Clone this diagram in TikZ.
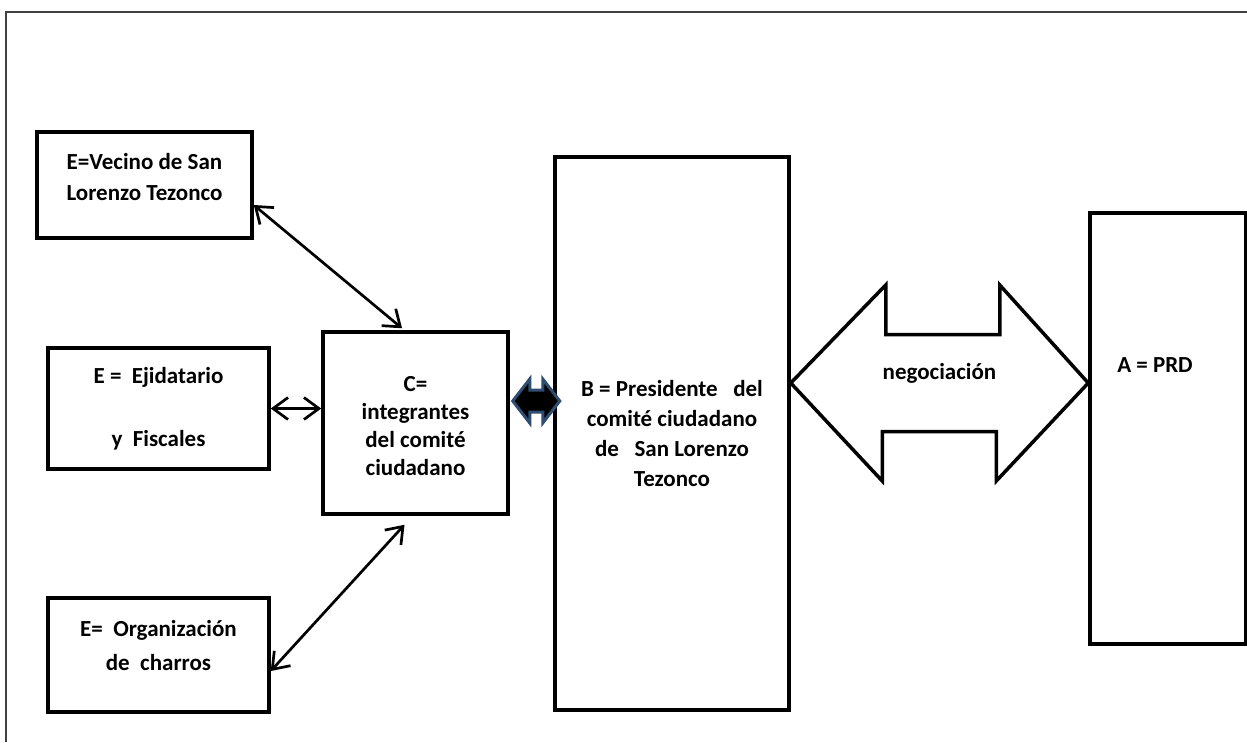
\documentclass[tikz,border=0pt]{standalone}
\usepackage{fontspec}
\setmainfont{Carlito}
\usetikzlibrary{calc,positioning,arrows.meta}

\definecolor{arrowblue}{RGB}{47,77,112}
\tikzset{
	box/.style={draw, line width=3.5pt, inner sep=0pt, align=center, font=\bfseries\fontsize{23}{30}\selectfont},
	lbl/.style={inner sep=0pt, font=\bfseries\fontsize{23}{30}\selectfont},
	link/.style={line width=2.7pt, {Straight Barb[length=15pt,width=22pt]}-{Straight Barb[length=15pt,width=22pt]}},
	bigarrow/.style={line width=3.5pt, line join=miter},
}
\newcommand{\lifted}[2]{\raisebox{#1}[\height][\depth]{\begin{tabular}{@{}c@{}}#2\end{tabular}}}

\begin{document}
\begin{tikzpicture}[x=1pt,y=-1pt]
		\useasboundingbox (0,0) rectangle (1247,742);
		\draw[black!75, line width=1.2pt] (1247,12) -- (6,12) -- (6,742);

		% boxes
		\node[box, minimum width=215pt, minimum height=106pt] (E1) at (144.5,185) {\lifted{6pt}{E=Vecino de San\\[1pt]Lorenzo Tezonco}};
		\node[box, minimum width=221pt, minimum height=121pt] (E2) at (158.5,408.5) {E =\ \ Ejidatario\\[33pt]y\ \ Fiscales};
		\node[box, minimum width=221pt, minimum height=114pt] (E3) at (158.5,655) {\lifted{8pt}{E=\ \ Organización\\[4pt]de\ \ charros}};
		\node[box, minimum width=185pt, minimum height=182pt] (C) at (415.5,423) {\lifted{-4pt}{C=\\[-2pt]integrantes\\[-2pt]del comité\\[-2pt]ciudadano}};
		\node[box, minimum width=234pt, minimum height=553pt] (B) at (672,433.5) {B = Presidente\ \ \ del\\comité ciudadano\\de\ \ \ San Lorenzo\\Tezonco};
		\node[box, minimum width=156pt, minimum height=431pt] (A) at (1168,428.5) {};
		\node[lbl] (Atxt) at (1155,365) {A = PRD};

		% links to C
		\draw[link] ([yshift=-20pt]E1.east) -- ([xshift=-13.5pt,yshift=2pt]C.north);
		\draw[link] (E2.east) -- (E2.east -| C.west);
		\draw[link] ([shift={(-11pt,-9pt)}]C.south) -- ([yshift=-16pt]E3.east);

		% small arrow C - B
		\coordinate (sl) at ($(C.east)+(3,-22)$);
		\draw[arrowblue, fill=black, line width=3pt, line join=miter] (sl) -- ++(17,-22) -- ++(0,11) -- ++(13,0) -- ++(0,-11) -- ++(17,22) -- ++(-17,22) -- ++(0,-11) -- ++(-13,0) -- ++(0,11) -- cycle;

		% negotiation arrow B - A
		\coordinate (nl) at ($(B.east)+(0,-50.5)$);
		\coordinate (nr) at (nl -| A.west);
		\draw[bigarrow] (nl) -- ++(95,-98) -- ++(0,49.5) -- ++(114,0) -- ++(0,-49.5) -- (nr) -- ++(-92,98) -- ++(0,-49.5) -- ++(-114,0) -- ++(0,49.5) -- cycle;
		\node[lbl] (neg) at ($(nl)!0.5!(nr)+(0,-10)$) {negociación};
	\end{tikzpicture}
\end{document}
